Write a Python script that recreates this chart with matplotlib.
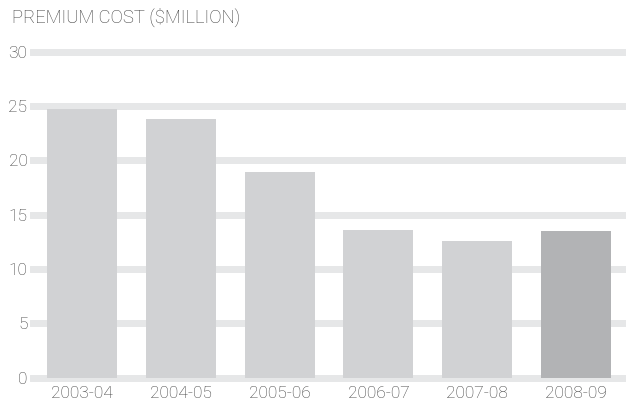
import matplotlib
matplotlib.use('Agg')
import matplotlib.pyplot as plt

# 数据
years = ['2003-04', '2004-05', '2005-06', '2006-07', '2007-08', '2008-09']
premium = [24.7, 23.8, 18.9, 13.6, 12.6, 13.5]
yticks = [0, 5, 10, 15, 20, 25, 30]

bar_colors = ['#d1d2d4'] * 5 + ['#b2b3b5']
text_color = '#3c3c3c'

plt.rcParams['font.family'] = ['Roboto', 'DejaVu Sans']
plt.rcParams['font.weight'] = 'light'

W, H = 626, 405
fig = plt.figure(figsize=(W / 100, H / 100), dpi=100)

# 坐标轴位置（像素）
left, right = 33, 626
y0, y30 = 377.5, 51.7
ax = fig.add_axes([left / W, (H - y0) / H, (right - left) / W, (y0 - y30) / H])

x = list(range(len(years)))
ax.bar(x, premium, width=0.71, color=bar_colors, zorder=2)

# 网格线
for t in yticks:
    ax.axhline(t, color='#e6e7e8', linewidth=5.0, zorder=1, clip_on=False)

ax.set_ylim(0, 30)
ax.set_xlim(-0.496, 5.506)
ax.set_yticks(yticks)
ax.set_xticks(x)
ax.set_xticklabels(years)

for s in ax.spines.values():
    s.set_visible(False)
ax.tick_params(axis='both', length=0, labelsize=12.5, colors=text_color)
ax.tick_params(axis='y', pad=4)
ax.tick_params(axis='x', pad=6)

fig.text(12 / W, 1 - 8 / H, 'PREMIUM COST ($MILLION)', fontsize=13.3,
         color=text_color, ha='left', va='top')

fig.savefig('out.png', dpi=100)
